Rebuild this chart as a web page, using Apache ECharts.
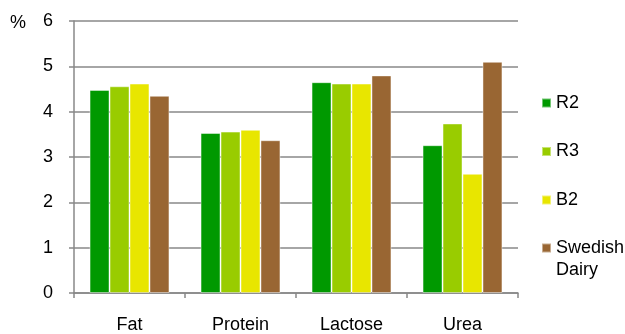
<!DOCTYPE html>
<html>
<head>
<meta charset="utf-8">
<script src="https://cdn.jsdelivr.net/npm/echarts@6/dist/echarts.min.js"></script>
<style>
  html, body { margin: 0; padding: 0; background: #fff; }
  #chart { width: 625px; height: 334px; }
</style>
</head>
<body>
<div id="chart"></div>
<script>
// Milk composition (%) by component
const categories = ['Fat', 'Protein', 'Lactose', 'Urea'];
const seriesNames = ['R2', 'R3', 'B2', 'Swedish Dairy'];
const r2 = [4.48, 3.53, 4.65, 3.26];
const r3 = [4.56, 3.56, 4.62, 3.74];
const b2 = [4.62, 3.60, 4.62, 2.63];
const swedishDairy = [4.35, 3.37, 4.80, 5.10];
const yTicks = [0, 1, 2, 3, 4, 5, 6];

const colors = ['#009900', '#99cc00', '#e8e600', '#996633'];
const values = [r2, r3, b2, swedishDairy];
const FONT = '"Liberation Sans", Arial, sans-serif';
const FS = 18;
const LH = 22;

const chart = echarts.init(document.getElementById('chart'), null, { renderer: 'canvas' });

// one legend block per series so each entry sits at its own row;
// the two-line name gets an empty leading line so the swatch lines up with "Swedish"
const legendTops = [92, 140.5, 189, 215];
const legends = seriesNames.map((name, i) => ({
  data: [name],
  orient: 'vertical',
  left: 541,
  top: legendTops[i],
  padding: 0,
  itemWidth: 9,
  itemHeight: 9,
  icon: 'rect',
  selectedMode: false,
  formatter: n => n === 'Swedish Dairy' ? '\nSwedish\nDairy' : n,
  textStyle: {
    fontFamily: FONT,
    fontSize: FS,
    color: '#000',
    lineHeight: LH
  }
}));

chart.setOption({
  animation: false,
  color: colors,
  grid: { left: 74, right: 107, top: 21, bottom: 40.5 },
  legend: legends,
  graphic: [{
    type: 'text',
    left: 10,
    top: 14,
    style: { text: '%', font: FS + 'px ' + FONT, fill: '#000' }
  }],
  xAxis: {
    type: 'category',
    data: categories,
    axisLine: { lineStyle: { color: '#888', width: 1.5 } },
    axisTick: { show: true, length: 5, lineStyle: { color: '#888', width: 1.5 } },
    axisLabel: { fontFamily: FONT, fontSize: FS, color: '#000', margin: 23 }
  },
  yAxis: {
    type: 'value',
    min: yTicks[0],
    max: yTicks[yTicks.length - 1],
    interval: 1,
    axisLine: { show: true, lineStyle: { color: '#888', width: 1.5 } },
    axisTick: { show: true, length: 5, lineStyle: { color: '#888', width: 1.5 } },
    splitLine: { lineStyle: { color: '#888', width: 1.5 } },
    axisLabel: { fontFamily: FONT, fontSize: FS, color: '#000', margin: 21 }
  },
  series: seriesNames.map((name, i) => ({
    name,
    type: 'bar',
    data: values[i],
    barGap: '0%',
    barCategoryGap: '28%',
    itemStyle: { color: colors[i], borderColor: 'rgba(255,255,255,0.45)', borderWidth: 1 }
  }))
});
</script>
</body>
</html>
